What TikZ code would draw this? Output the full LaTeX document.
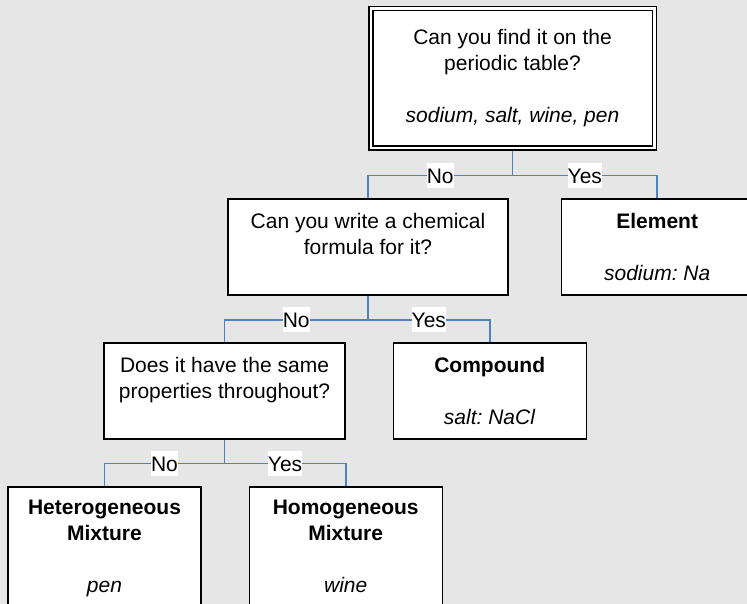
\documentclass[tikz,border=0pt]{standalone}
\usepackage{fontspec}
\setmainfont{Liberation Sans}
\usepackage{xcolor}
\usetikzlibrary{positioning}
\definecolor{linkblue}{RGB}{79,129,189}
\definecolor{pagegray}{RGB}{230,230,230}
\frenchspacing

\begin{document}
\begin{tikzpicture}[x=1pt,y=1pt,
    box/.style={draw=black,line width=1.2pt,fill=white,align=center,
      minimum height=96pt,inner sep=0pt,
      font=\fontsize{21}{26}\selectfont},
    link/.style={draw=linkblue,line width=1.6pt},
    answer/.style={fill=white,inner xsep=0pt,inner ysep=5pt,
      text height=15pt,text depth=0pt,font=\fontsize{21}{26}\selectfont}]
  \useasboundingbox (0,0) rectangle (747,604);
  \clip (0,0) rectangle (747,604);
  \fill[pagegray] (0,0) rectangle (747,604);
  % questions and answers
  \node[box,double=white,line width=1.5pt,double distance=2.5pt,
    outer sep=2.75pt,minimum width=283.5pt,minimum height=139.5pt]
    (top) at (512.5,525.5)
    {Can you find it on the\\periodic table?\\[26pt]\textit{sodium, salt, wine, pen}};
  \node[box,minimum width=280pt] (formula) at (368,357)
    {Can you write a chemical\\formula for it?\\\phantom{x}};
  \node[box,minimum width=191pt,right=52.5pt of formula] (element)
    {\textbf{Element}\\[26pt]\textit{sodium: Na}};
  \node[box,minimum width=241pt] (same) at (224.5,213)
    {Does it have the same\\properties throughout?\\\phantom{x}};
  \node[box,minimum width=193pt,right=47pt of same] (compound)
    {\textbf{Compound}\\[26pt]\textit{salt: NaCl}};
  \node[box,minimum width=193pt,minimum height=122pt] (hetero) at (104.5,56)
    {\textbf{Heterogeneous}\\\textbf{Mixture}\\[26pt]\textit{pen}};
  \node[box,minimum width=193pt,minimum height=122pt,right=47pt of hetero] (homo)
    {\textbf{Homogeneous}\\\textbf{Mixture}\\[26pt]\textit{wine}\vphantom{p}};
  % branches
  \coordinate (j1) at (512.5,428.4);
  \coordinate (j2) at (368,284);
  \coordinate (j3) at (224.5,140.3);
  \draw[link] (top.south) -- (j1);
  \draw[link] (j1) -| node[answer,pos=0.25]{No} (formula.north);
  \draw[link] (j1) -| node[answer,pos=0.25]{Yes} (element.north);
  \draw[link] (formula.south) -- (j2);
  \draw[link] (j2) -| node[answer,pos=0.25]{No} (same.north);
  \draw[link] (j2) -| node[answer,pos=0.25]{Yes} (compound.north);
  \draw[link] (same.south) -- (j3);
  \draw[link] (j3) -| node[answer,pos=0.25]{No} (hetero.north);
  \draw[link] (j3) -| node[answer,pos=0.25]{Yes} (homo.north);
\end{tikzpicture}
\end{document}
